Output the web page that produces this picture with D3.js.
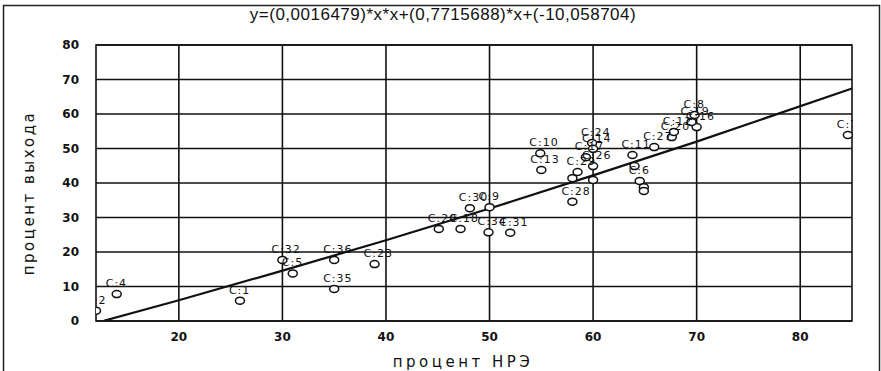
<!DOCTYPE html>
<html>
<head>
<meta charset="utf-8">
<script src="https://cdn.jsdelivr.net/npm/d3@7"></script>
<style>
  body { margin: 0; background: #fff; }
  svg text { font-family: "DejaVu Sans", Verdana, sans-serif; fill: #111; }
</style>
</head>
<body>
<div id="chart"></div>
<script>
// regression title
var titleText = "y=(0,0016479)*x*x+(0,7715688)*x+(-10,058704)";

// scatter points: процент НРЭ (x), процент выхода (y), label
var ptX = [12.0, 14.0, 25.9, 30.0, 31.0, 35.0, 35.0, 38.9, 45.1, 47.2, 48.1, 50.0, 49.9, 52.0, 58.0,
           54.9, 55.0, 59.9, 60.0, 59.3, 58.5, 60.0, 58.0, 60.0, 63.8, 64.0, 65.9, 67.6, 67.8,
           70.0, 69.5, 69.8, 64.5, 64.9, 64.9, 84.6];
var ptY = [3.0, 7.8, 5.9, 17.7, 13.8, 17.7, 9.3, 16.5, 26.7, 26.7, 32.7, 33.0, 25.7, 25.6, 34.6,
           48.6, 43.8, 51.6, 49.9, 47.5, 43.2, 44.9, 41.4, 40.9, 48.1, 44.9, 50.4, 53.3, 54.8,
           56.2, 57.7, 59.7, 40.6, 38.8, 37.7, 53.9];
var ptLabel = ["C:2", "C:4", "C:1", "C:32", "C:5", "C:36", "C:35", "C:23", "C:20", "C:18", "C:30", "C:9", "C:34", "C:31", "C:28",
               "C:10", "C:13", "C:24", "C:14", "C:17", "C:29", "C:26", "", "", "C:11", "", "C:27", "C:20", "C:12",
               "C:16", "C:19", "C:8", "C:6", "", "", "C:7"];

// fitted curve
var fitX = [12.8, 20, 30, 40, 50, 60, 70, 85];
var fitY = [0.1, 6.0, 14.6, 23.4, 32.6, 42.2, 52.0, 67.4];

var xTicks = [20, 30, 40, 50, 60, 70, 80];
var yTicks = [0, 10, 20, 30, 40, 50, 60, 70, 80];

var width = 881, height = 371;
var margin = { left: 96, right: 29, top: 45, bottom: 50 };

var svg = d3.select("#chart").append("svg")
  .attr("width", width)
  .attr("height", height);

// outer frame
svg.append("rect")
  .attr("x", 3.5).attr("y", 5.5)
  .attr("width", 876).attr("height", 380)
  .attr("fill", "none").attr("stroke", "#222").attr("stroke-width", 1.5);

svg.append("text")
  .attr("x", 443).attr("y", 20)
  .attr("text-anchor", "middle")
  .style("font-family", "'Liberation Sans', Arial, sans-serif")
  .style("font-size", "17px")
  .style("letter-spacing", "0.5px")
  .text(titleText);

var x = d3.scaleLinear().domain([12, 85]).range([margin.left, width - margin.right]);
var y = d3.scaleLinear().domain([0, 80]).range([height - margin.bottom, margin.top]);

var plot = svg.append("g");

// grid
plot.selectAll(".vgrid").data(xTicks).enter().append("line")
  .attr("x1", d => x(d)).attr("x2", d => x(d))
  .attr("y1", y(0)).attr("y2", y(80))
  .attr("stroke", "#111").attr("stroke-width", 1.6);
plot.selectAll(".hgrid").data(yTicks).enter().append("line")
  .attr("x1", x(12)).attr("x2", x(85))
  .attr("y1", d => y(d)).attr("y2", d => y(d))
  .attr("stroke", "#111").attr("stroke-width", 1.6);
plot.append("rect")
  .attr("x", x(12)).attr("y", y(80))
  .attr("width", x(85) - x(12)).attr("height", y(0) - y(80))
  .attr("fill", "none").attr("stroke", "#111").attr("stroke-width", 1.6);

// tick labels
svg.selectAll(".ytick").data(yTicks).enter().append("text")
  .attr("x", 79).attr("y", d => y(d) + 4)
  .attr("text-anchor", "end")
  .style("font-size", "12px").style("font-weight", "bold")
  .text(d => d);
svg.selectAll(".xtick").data(xTicks).enter().append("text")
  .attr("x", d => x(d)).attr("y", height - margin.bottom + 20)
  .attr("text-anchor", "middle")
  .style("font-size", "12px").style("font-weight", "bold")
  .text(d => d);

// axis titles
svg.append("text")
  .attr("x", 463).attr("y", 367)
  .attr("text-anchor", "middle")
  .style("font-size", "15px").style("letter-spacing", "3.5px")
  .text("процент НРЭ");
svg.append("text")
  .attr("transform", "translate(34,193) rotate(-90)")
  .attr("text-anchor", "middle")
  .style("font-size", "15px").style("letter-spacing", "2.5px")
  .text("процент выхода");

// clip for marks
svg.append("clipPath").attr("id", "plotclip")
  .append("rect")
  .attr("x", x(12)).attr("y", y(80))
  .attr("width", x(85) - x(12) + 1).attr("height", y(0) - y(80));

var marks = svg.append("g").attr("clip-path", "url(#plotclip)");

// fit line
var fit = fitX.map((d, i) => [d, fitY[i]]);
marks.append("path")
  .datum(fit)
  .attr("d", d3.line().x(d => x(d[0])).y(d => y(d[1])).curve(d3.curveMonotoneX))
  .attr("fill", "none").attr("stroke", "#111").attr("stroke-width", 2.2);

// points
var pts = ptX.map((d, i) => ({ x: d, y: ptY[i], label: ptLabel[i] }));
marks.selectAll(".pt").data(pts).enter().append("ellipse")
  .attr("cx", d => x(d.x)).attr("cy", d => y(d.y))
  .attr("rx", 4.5).attr("ry", 3.5)
  .attr("fill", "#fff").attr("stroke", "#111").attr("stroke-width", 1.5);

marks.selectAll(".lbl").data(pts).enter().append("text")
  .attr("x", d => x(d.x) - 11).attr("y", d => y(d.y) - 7)
  .style("font-size", "11px").style("letter-spacing", "1px")
  .text(d => d.label);
</script>
</body>
</html>
